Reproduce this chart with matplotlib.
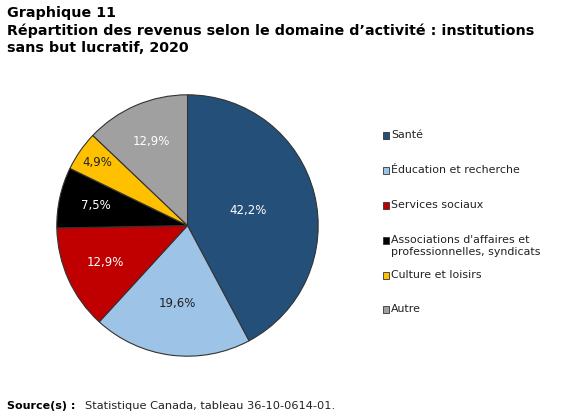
import matplotlib.pyplot as plt
import numpy as np
from matplotlib.patches import Rectangle

# data
categories = ['Santé', 'Éducation et recherche', 'Services sociaux',
              "Associations d'affaires et\nprofessionnelles, syndicats",
              'Culture et loisirs', 'Autre']
values = [42.2, 19.6, 12.9, 7.5, 4.9, 12.9]
labels = ['42,2%', '19,6%', '12,9%', '7,5%', '4,9%', '12,9%']

colors = ['#234f78', '#9dc3e6', '#c00000', '#000000', '#ffc000', '#a0a0a0']
label_colors = ['white', '#222222', 'white', 'white', '#222222', 'white']
label_dist = [0.48, 0.6, 0.69, 0.72, 0.84, 0.7]

plt.rcParams['font.family'] = 'DejaVu Sans'
W, H = 567, 417
fig = plt.figure(figsize=(W/100, H/100), dpi=100)

# pie axes, centre at (187.5, 225.5) px, radius 132 px
cx, cy, r = 187.5, 225.5, 132
ax = fig.add_axes([(cx - r)/W, (H - cy - r)/H, 2*r/W, 2*r/H])
wedges, _ = ax.pie(values, colors=colors, startangle=90, counterclock=False,
                   radius=1, wedgeprops=dict(edgecolor='#333333', linewidth=0.8))
ax.set_xlim(-1.01, 1.01)
ax.set_ylim(-1.01, 1.01)
ax.set_aspect('equal')
ax.axis('off')

for w, lab, c, d in zip(wedges, labels, label_colors, label_dist):
    ang = np.deg2rad((w.theta1 + w.theta2) / 2)
    ax.text(d*np.cos(ang), d*np.sin(ang), lab, ha='center', va='center',
            fontsize=8.5, color=c)

# title
fig.text(7/W, 1 - 6/H, "Graphique 11\nRépartition des revenus selon le domaine d\u2019activité : institutions\nsans but lucratif, 2020",
         ha='left', va='top', fontsize=10.3, fontweight='bold', linespacing=1.28)

# legend
leg_y = [135, 170, 205, 240, 275, 309]
for lab, c, y in zip(categories, colors, leg_y):
    fig.add_artist(Rectangle((383/W, 1 - (y + 4)/H), 6/W, 7/H, transform=fig.transFigure,
                             facecolor=c, edgecolor='#333333', linewidth=0.6))
    fig.text(391/W, 1 - (y - 5)/H, lab, ha='left', va='top', fontsize=7.9,
             color='#222222', linespacing=1.2)

# source
fig.text(7/W, 1 - 406/H, 'Source(s) :', ha='left', va='center', fontsize=8, fontweight='bold')
fig.text(85/W, 1 - 406/H, 'Statistique Canada, tableau 36-10-0614-01.', ha='left', va='center',
         fontsize=8.2, color='#222222')

fig.savefig('out.png', dpi=100)
